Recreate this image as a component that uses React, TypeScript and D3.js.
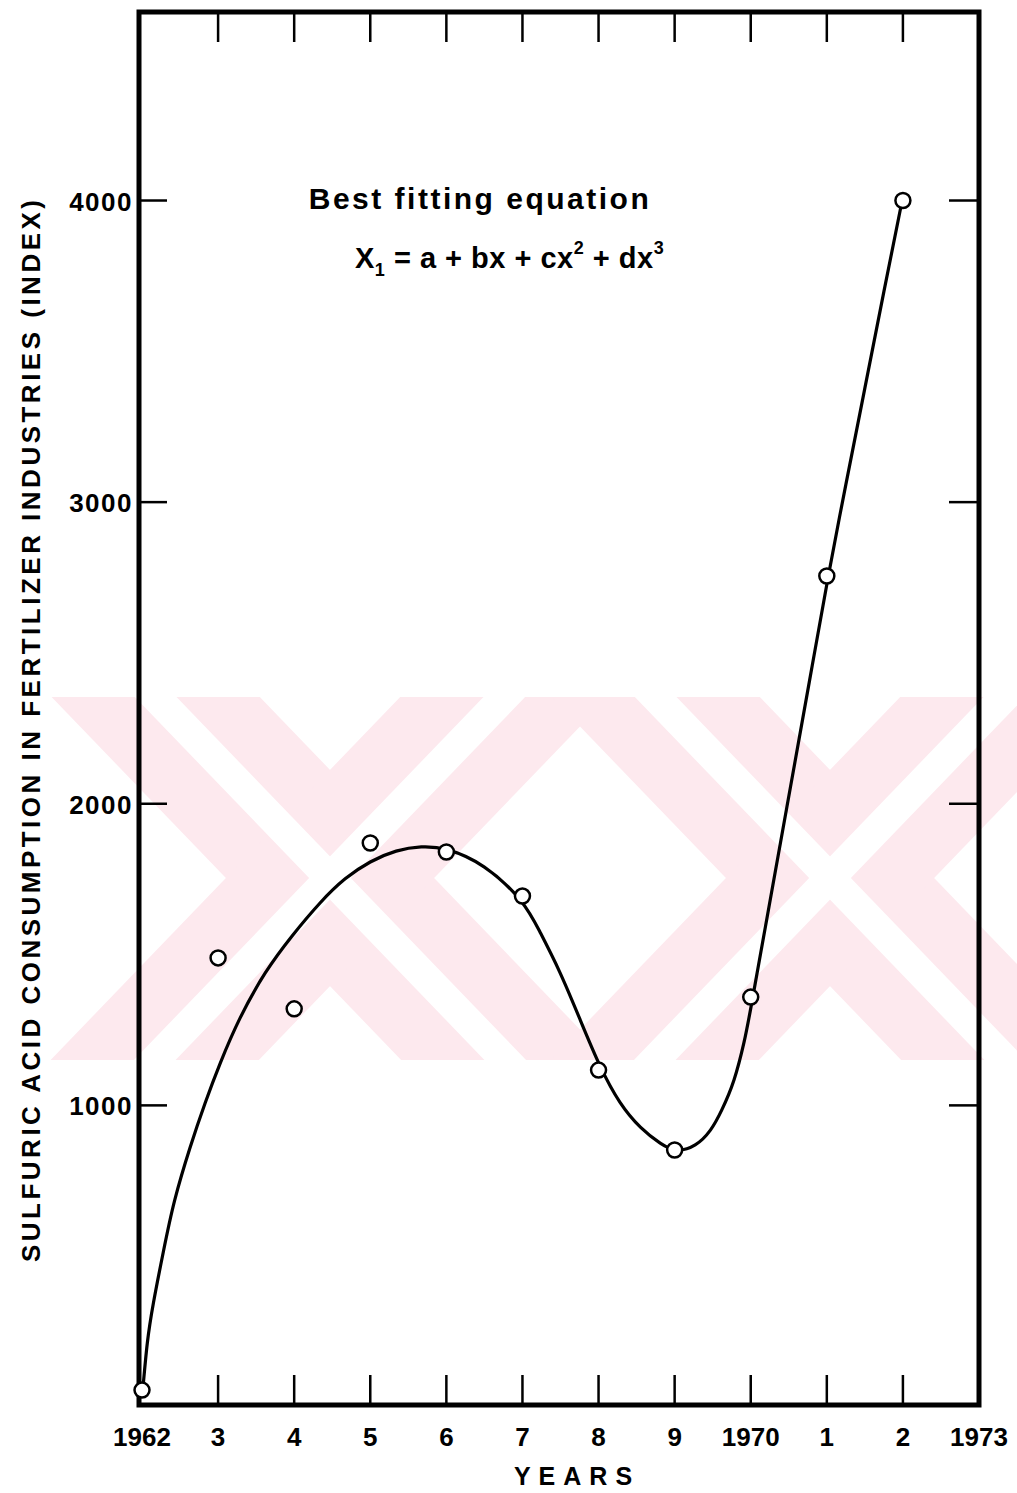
import React from 'react';
import * as d3 from 'd3';

// Observed data (index)
const years = [1962, 1963, 1964, 1965, 1966, 1967, 1968, 1969, 1970, 1971, 1972];
const observed = [56, 1489, 1320, 1870, 1840, 1694, 1117, 852, 1359, 2755, 4000];

// Fitted curve
const fitYears = [1962.01, 1962.07, 1962.15, 1962.28, 1962.43, 1962.63, 1962.83, 1963.03, 1963.29, 1963.62, 1963.97, 1964.34, 1964.67, 1965.0, 1965.34, 1965.67, 1966.02, 1966.5, 1966.97, 1967.23, 1967.49, 1967.76, 1968.02, 1968.28, 1968.55, 1968.81, 1969.03, 1969.27, 1969.47, 1969.62, 1969.78, 1969.91, 1970.02, 1970.27, 1970.52, 1970.77, 1971.02, 1971.25, 1971.5, 1971.75, 1971.99];
const fitValues = [56, 212, 345, 514, 686, 859, 1008, 1141, 1290, 1439, 1561, 1671, 1751, 1807, 1843, 1857, 1847, 1790, 1681, 1575, 1442, 1283, 1131, 1011, 928, 875, 852, 869, 918, 985, 1084, 1207, 1349, 1701, 2052, 2404, 2755, 3058, 3378, 3698, 4000];

const tickYears = [1962, 1963, 1964, 1965, 1966, 1967, 1968, 1969, 1970, 1971, 1972, 1973];
const tickLabels = ['1962', '3', '4', '5', '6', '7', '8', '9', '1970', '1', '2', '1973'];
const yTicks = [1000, 2000, 3000, 4000];
const yTickLabels = ['1000', '2000', '3000', '4000'];

const W = 1017;
const H = 1493;
const FONT = "'Liberation Sans', Arial, sans-serif";

export default function App() {
  const x = d3.scaleLinear().domain([1962, 1973]).range([142, 979]);
  const y = d3.scaleLinear().domain([0, 4625]).range([1407, 12]);

  const frameL = 139;
  const frameR = 979;
  const frameT = y(4625);
  const frameB = 1405;

  const line = d3
    .line<number>()
    .x((_, i) => x(fitYears[i]))
    .y((d) => y(d))
    .curve(d3.curveNatural);

  const tickLen = 30;

  // watermark strokes (decorative)
  const wm = [
    [330, 878],
    [830, 878],
  ];

  return (
    <svg width={W} height={H} viewBox={`0 0 ${W} ${H}`} style={{ display: 'block', position: 'absolute', left: 0, top: 0, background: '#fff' }}>
      <rect x={0} y={0} width={W} height={H} fill="#fff" />
      <defs>
        <clipPath id="wmclip">
          <rect x={42} y={697} width={975} height={363} />
        </clipPath>
      </defs>
      <g clipPath="url(#wmclip)">
        {wm.map(([cx, cy], i) => (
          <g key={i}>
            <line x1={cx - 260} y1={cy - 270} x2={cx + 260} y2={cy + 270} stroke="#fde9ee" strokeWidth={150} />
            <line x1={cx + 260} y1={cy - 270} x2={cx - 260} y2={cy + 270} stroke="#fde9ee" strokeWidth={150} />
          </g>
        ))}
        {wm.map(([cx, cy], i) => (
          <g key={'w' + i}>
            <line x1={cx - 260} y1={cy - 270} x2={cx + 260} y2={cy + 270} stroke="#fff" strokeWidth={30} />
            <line x1={cx + 260} y1={cy - 270} x2={cx - 260} y2={cy + 270} stroke="#fff" strokeWidth={30} />
          </g>
        ))}
      </g>

      {/* ticks */}
      <g stroke="#000" strokeWidth={2.5}>
        {tickYears.slice(1, -1).map((t) => (
          <g key={t}>
            <line x1={x(t)} x2={x(t)} y1={frameT} y2={frameT + tickLen} />
            <line x1={x(t)} x2={x(t)} y1={frameB} y2={frameB - tickLen} />
          </g>
        ))}
        {yTicks.map((v) => (
          <g key={v}>
            <line x1={frameL} x2={frameL + 28} y1={y(v)} y2={y(v)} />
            <line x1={frameR} x2={frameR - 30} y1={y(v)} y2={y(v)} />
          </g>
        ))}
      </g>

      {/* frame */}
      <rect x={frameL} y={frameT} width={frameR - frameL} height={frameB - frameT} fill="none" stroke="#000" strokeWidth={5} />

      {/* fitted curve */}
      <path d={line(fitValues) || ''} fill="none" stroke="#000" strokeWidth={3.2} strokeLinejoin="round" />

      {/* observed points */}
      {years.map((yr, i) => (
        <circle key={yr} cx={x(yr)} cy={y(observed[i])} r={7.5} fill="#fff" stroke="#000" strokeWidth={2.5} />
      ))}

      {/* x tick labels */}
      <g fontFamily={FONT} fontWeight="bold" fontSize={26} textAnchor="middle">
        {tickYears.map((t, i) => (
          <text key={t} x={x(t)} y={1446}>
            {tickLabels[i]}
          </text>
        ))}
      </g>
      <text x={577} y={1485} fontFamily={FONT} fontWeight="bold" fontSize={25} textAnchor="middle" letterSpacing={8}>
        YEARS
      </text>

      {/* y tick labels */}
      <g fontFamily={FONT} fontWeight="bold" fontSize={26} textAnchor="end">
        {yTicks.map((v, i) => (
          <text key={v} x={133} y={y(v) + 10} letterSpacing={1.5}>
            {yTickLabels[i]}
          </text>
        ))}
      </g>

      {/* y axis title */}
      <text
        transform="translate(40,731) rotate(-90)"
        fontFamily={FONT}
        fontWeight="bold"
        fontSize={26}
        textAnchor="middle"
        textLength={1062}
        lengthAdjust="spacing"
      >
        SULFURIC ACID CONSUMPTION IN FERTILIZER INDUSTRIES (INDEX)
      </text>

      {/* annotation */}
      <text x={480} y={209} fontFamily={FONT} fontWeight="bold" fontSize={30} textAnchor="middle" letterSpacing={2.5}>
        Best fitting  equation
      </text>
      <text x={355} y={268} fontFamily={FONT} fontWeight="bold" fontSize={29} letterSpacing={0.5}>
        <tspan>X</tspan>
        <tspan fontSize={18} dy={8}>1</tspan>
        <tspan dy={-8}> = a + bx + cx</tspan>
        <tspan fontSize={18} dy={-14}>2</tspan>
        <tspan dy={14}> + dx</tspan>
        <tspan fontSize={18} dy={-14}>3</tspan>
      </text>
    </svg>
  );
}
